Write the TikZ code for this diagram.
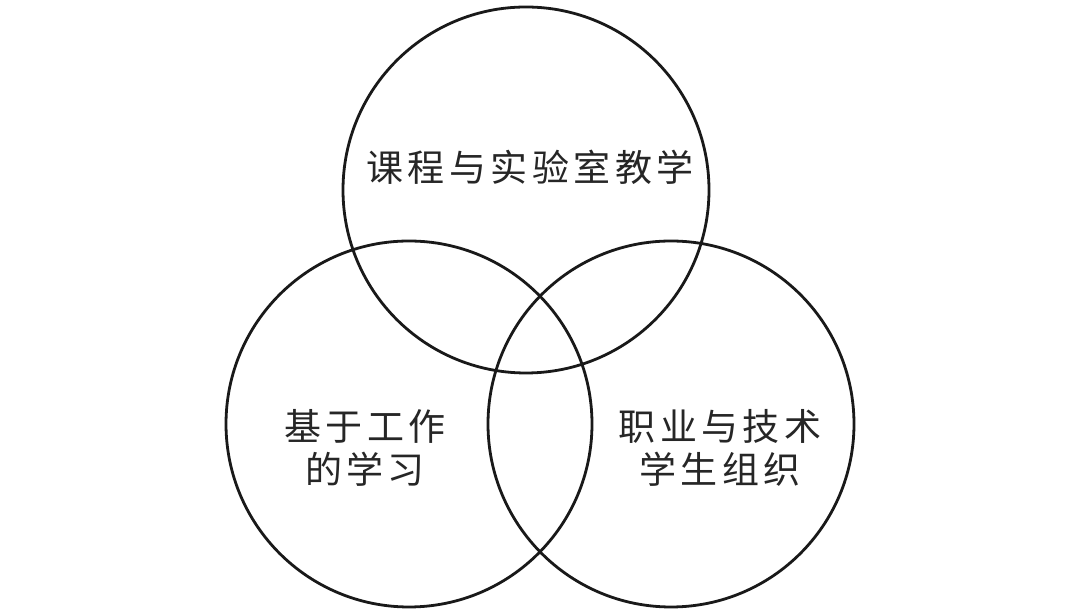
\documentclass[tikz,border=0pt]{standalone}
\usepackage{fontspec}
\newfontfamily\cjk[LetterSpace=12]{Noto Sans CJK SC}
\tikzset{
  ring/.style={circle, draw=black!90, line width=2.8pt, minimum size=366pt, inner sep=0pt},
  label/.style={font=\cjk\fontsize{37}{43}\selectfont, text=black!85, align=center, inner sep=0pt}
}
\begin{document}
\begin{tikzpicture}[x=1pt,y=1pt]
\useasboundingbox (0,0) rectangle (1080,615);
\fill[white] (0,0) rectangle (1080,615);
\node[ring] (top) at (526,425) {};
\node[ring] (left) at (409,191) {};
\node[ring] (right) at (671,191) {};
\node[label] (ttop) at (530,448) {课程与实验室教学};
\node[label] (tleft) at (365,167) {基于工作\\的学习};
\node[label] (tright) at (720,167) {职业与技术\\学生组织};
\end{tikzpicture}
\end{document}
